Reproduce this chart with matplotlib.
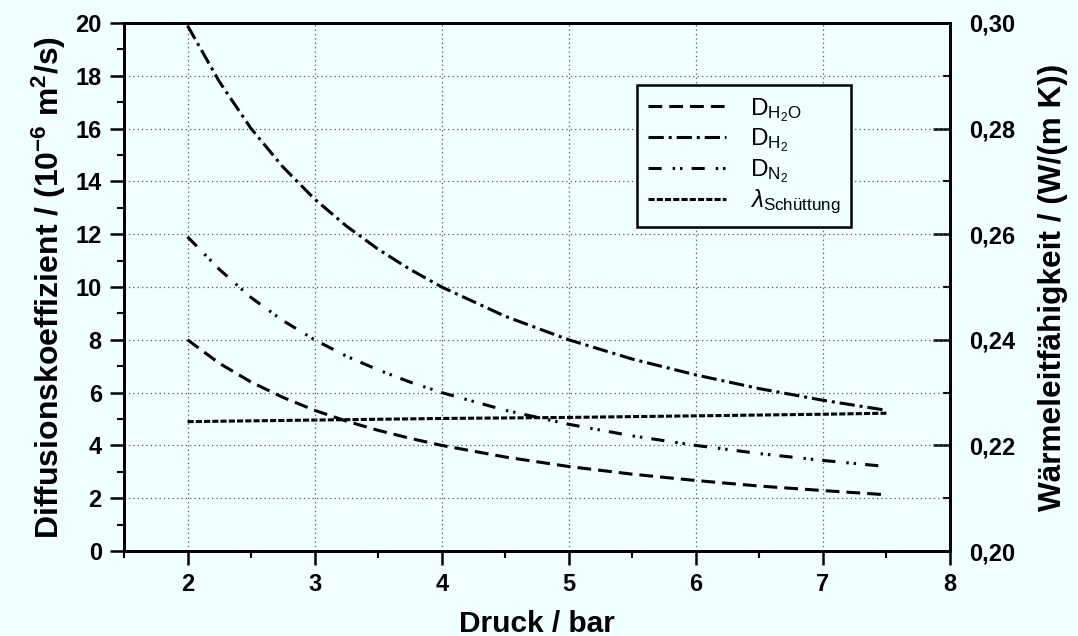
import matplotlib
matplotlib.use("Agg")
import matplotlib.pyplot as plt
from matplotlib.ticker import MultipleLocator, FuncFormatter

plt.rcParams['font.family'] = ['Liberation Sans', 'DejaVu Sans']
plt.rcParams['mathtext.fontset'] = 'custom'
plt.rcParams['mathtext.rm'] = 'Liberation Sans'
plt.rcParams['mathtext.it'] = 'Liberation Sans:italic'
plt.rcParams['mathtext.bf'] = 'Liberation Sans:bold'

pressure = [2.0, 2.25, 2.5, 2.75, 3.0, 3.25, 3.5, 3.75, 4.0, 4.5, 5.0, 5.5, 6.0, 6.5, 7.0, 7.5]
d_h2o = [8.0, 7.11, 6.4, 5.82, 5.33, 4.92, 4.57, 4.27, 4.0, 3.56, 3.2, 2.91, 2.67, 2.46, 2.29, 2.13]
d_h2 = [19.9, 17.78, 16.0, 14.55, 13.33, 12.31, 11.43, 10.67, 10.0, 8.89, 8.0, 7.27, 6.67, 6.15, 5.71, 5.33]
d_n2 = [11.9, 10.67, 9.6, 8.73, 8.0, 7.38, 6.86, 6.4, 6.0, 5.33, 4.8, 4.36, 4.0, 3.69, 3.43, 3.2]
lam_p = [2.0, 3.0, 4.0, 5.0, 6.0, 7.0, 7.5]
lam = [0.2245, 0.2248, 0.2251, 0.2253, 0.2256, 0.2259, 0.2261]

bg = '#f0ffff'
fig = plt.figure(figsize=(10.78, 6.36), dpi=100, facecolor=bg)
ax = fig.add_axes([124/1078, 1 - 551/636, (950-124)/1078, (551-23)/636])
ax.set_facecolor(bg)
ax2 = ax.twinx()

lw = 2.2
l1, = ax.plot(pressure, d_h2o, color='black', lw=lw, dashes=(4.5, 2.3))
l2, = ax.plot(pressure, d_h2, color='black', lw=lw, dashes=(5, 1.6, 1, 1.6))
l3, = ax.plot(pressure, d_n2, color='black', lw=lw, dashes=(4.3, 3.6, 0.8, 1.6, 0.8, 3.0))
l4, = ax2.plot(lam_p, lam, color='black', lw=lw, dashes=(2, 0.7))

ax.set_xlim(1.5, 8)
ax.set_ylim(0, 20)
ax2.set_ylim(0.20, 0.30)

ax.xaxis.set_major_locator(MultipleLocator(1))
ax.xaxis.set_minor_locator(MultipleLocator(0.5))
ax.yaxis.set_major_locator(MultipleLocator(2))
ax.yaxis.set_minor_locator(MultipleLocator(1))
ax2.yaxis.set_major_locator(MultipleLocator(0.02))
ax2.yaxis.set_minor_locator(MultipleLocator(0.01))
ax2.yaxis.set_major_formatter(FuncFormatter(lambda v, p: f"{v:.2f}".replace('.', ',')))

ax.grid(True, which='major', color='#555555', linestyle=(0, (1, 2.5)), linewidth=0.9)

ax.tick_params(axis='both', which='major', direction='out', length=10, width=1.8,
               labelsize=17, pad=6)
ax.tick_params(axis='both', which='minor', direction='out', length=5, width=1.5)
ax2.tick_params(axis='y', which='major', direction='in', length=12, width=1.8,
                labelsize=17, pad=14)
ax2.tick_params(axis='y', which='minor', direction='in', length=5, width=1.5)
for a in (ax, ax2):
    for lbl in a.get_xticklabels() + a.get_yticklabels():
        lbl.set_fontweight('bold')
    for s in a.spines.values():
        s.set_linewidth(2)

ax.set_xlabel('Druck / bar', fontsize=21.5, fontweight='bold', labelpad=10)
ax.set_ylabel(r'Diffusionskoeffizient / (10$^{\mathbf{-6}}$ m$^{\mathbf{2}}$/s)',
              fontsize=23, fontweight='bold', labelpad=5)
ax2.set_ylabel('Wärmeleitfähigkeit / (W/(m K))', fontsize=22.7, fontweight='bold',
               labelpad=16)

leg = ax.legend([l1, l2, l3, l4],
                [r'D$_{\mathregular{H_2O}}$', r'D$_{\mathregular{H_2}}$',
                 r'D$_{\mathregular{N_2}}$', r'$\lambda_{\mathregular{Schüttung}}$'],
                loc='upper left', bbox_to_anchor=((637-124)/826, (551-85)/528),
                fontsize=17.5, frameon=True, fancybox=False, framealpha=1,
                facecolor=bg, edgecolor='black', handlelength=3.2,
                handletextpad=1.0, borderpad=0.45, labelspacing=0.12, borderaxespad=0)
leg.get_frame().set_linewidth(1.8)
ax.set_zorder(ax2.get_zorder() + 1)
ax.patch.set_visible(False)
ax2.patch.set_facecolor(bg)

fig.savefig('out.png', dpi=100, facecolor=bg)
